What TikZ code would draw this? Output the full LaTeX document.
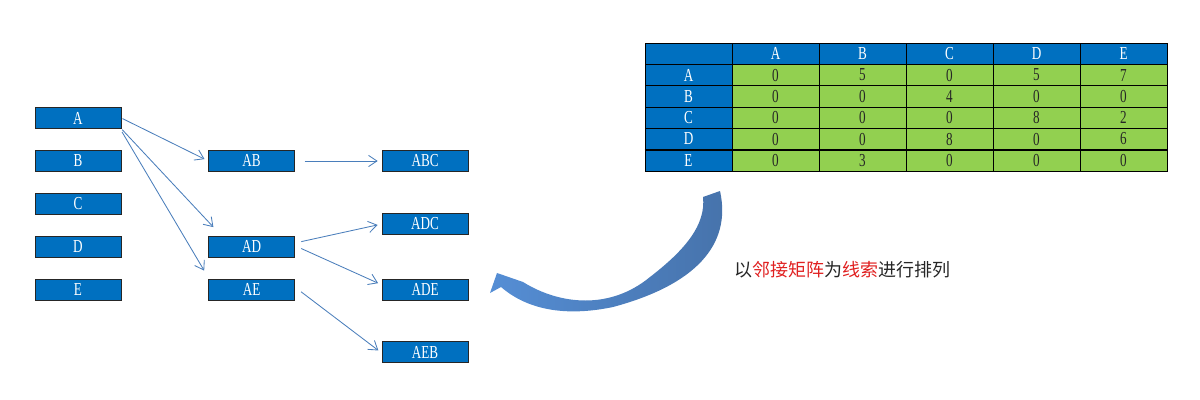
\documentclass[tikz,border=0pt]{standalone}
\usepackage{fontspec}
\setmainfont{Liberation Serif}[FakeStretch=0.72]
\newfontfamily\cjk{Noto Sans CJK SC}
\usetikzlibrary{arrows.meta,positioning}
\definecolor{cellblue}{HTML}{0070C0}
\definecolor{cellgreen}{HTML}{92D050}
\definecolor{linkblue}{HTML}{4A7EBB}
\definecolor{arrowlight}{HTML}{558ED5}
\definecolor{arrowdark}{HTML}{4672AA}
\definecolor{hintred}{HTML}{E02020}

\begin{document}
\begin{tikzpicture}[
    x=0.025cm, y=-0.025cm,
    node distance=0.54cm,
    box/.style={draw=black!85, fill=cellblue, text=white, minimum width=2.15cm, minimum height=0.52cm, inner sep=0pt, font=\fontsize{13}{13}\selectfont},
    cell/.style={draw=black, minimum width=2.175cm, minimum height=0.533cm, inner sep=0pt, font=\fontsize{13}{13}\selectfont},
    head/.style={cell, fill=cellblue, text=white},
    val/.style={cell, fill=cellgreen, text=black!85},
    link/.style={-{Straight Barb[length=6pt,width=8pt]}, draw=linkblue, line width=0.6pt, shorten >=3pt, shorten <=1pt}
]
\useasboundingbox (0,0) rectangle (1200,400);

% single letters
\node[box] (A) at (78,118) {A};
\node[box, below=of A] (B) {B};
\node[box, below=of B] (C) {C};
\node[box, below=of C] (D) {D};
\node[box, below=of D] (E) {E};

% pairs and triples
\node[box, right=2.175cm of B] (AB) {AB};
\node[box, right=2.175cm of D] (AD) {AD};
\node[box, right=2.175cm of E] (AE) {AE};
\node[box, right=2.175cm of AB] (ABC) {ABC};
\node[box] (ADC) at (425,224) {ADC};
\node[box, right=2.175cm of AE] (ADE) {ADE};
\node[box] (AEB) at (425,352) {AEB};

\draw[link] (A.east) -- (AB.west);
\draw[link] (A.south east) -- ([shift={(8,-6)}]AD.north west);
\draw[link] ([shift={(0,2)}]A.south east) -- ([shift={(-2,-5)}]AE.north west);
\draw[link] ([xshift=6pt]AB.east) -- (ABC.west);
\draw[link] ([shift={(5,-5)}]AD.east) -- (ADC.west);
\draw[link] ([shift={(5,1)}]AD.east) -- ([shift={(0,-5)}]ADE.west);
\draw[link] ([shift={(5,1)}]AE.east) -- ([shift={(0,1)}]AEB.west);

% adjacency matrix
\node[head] (corner) at (688.5,53.7) {};
\foreach \c [count=\i] in {A,B,C,D,E}
  \node[head] (h\c) at (688.5+87*\i,53.7) {\c};
\foreach \r/\vals [count=\j] in {A/{0,5,0,5,7},B/{0,0,4,0,0},C/{0,0,0,8,2},D/{0,0,8,0,6},E/{0,3,0,0,0}} {
  \node[head] (r\r) at (688.5,53.7+21.33*\j) {\r};
  \foreach \v [count=\i] in \vals
    \node[val] (v\r\i) at (688.5+87*\i,53.7+21.33*\j) {\v};
}
\draw[line width=1.1pt] (rD.south west) -- (vD5.south east);

% curved arrow
\path[left color=arrowlight, right color=arrowdark]
  (490,293) -- (497,273) -- (523,282)
  .. controls (560,305) and (610,310) .. (650,277)
  .. controls (685,250) and (706,225) .. (703,197) -- (720,191)
  .. controls (732,245) and (695,285) .. (613,307)
  .. controls (570,316) and (530,312) .. (501,287) -- cycle;

\node (hint) at (842,270) {\cjk\fontsize{12.8}{14}\selectfont\color{black!85}以\textcolor{hintred}{邻接矩阵}为\textcolor{hintred}{线索}进行排列};
\end{tikzpicture}
\end{document}
